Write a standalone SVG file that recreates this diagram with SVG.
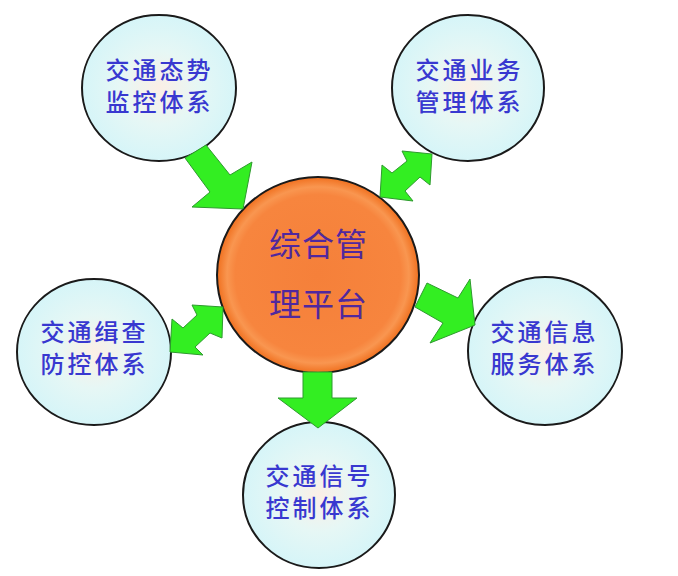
<svg xmlns="http://www.w3.org/2000/svg" width="678" height="576" viewBox="0 0 678 576">
<defs>
<radialGradient id="sat" cx="50%" cy="50%" r="50%">
<stop offset="0" stop-color="#FBEFE6"/>
<stop offset="0.5" stop-color="#E6F7F5"/>
<stop offset="1" stop-color="#D6F5F8"/>
</radialGradient>
<radialGradient id="hub" cx="50%" cy="50%" r="50%">
<stop offset="0" stop-color="#F5803A"/>
<stop offset="0.82" stop-color="#F7853E"/>
<stop offset="0.9" stop-color="#F99650"/>
<stop offset="1" stop-color="#F0701F"/>
</radialGradient>
<style>
.sat{fill:url(#sat);stroke:#1a1a1a;stroke-width:2}
.hub{fill:url(#hub);stroke:#1a1a1a;stroke-width:2}
.st{font-family:"Noto Sans CJK SC","Noto Sans CJK JP",sans-serif;font-size:24px;letter-spacing:3px;font-weight:500;fill:#3838D0;text-anchor:middle}
.ht{font-family:"Noto Sans CJK SC","Noto Sans CJK JP",sans-serif;font-size:32px;letter-spacing:1px;fill:#50289E;text-anchor:middle}
.ar{fill:#33EE22;stroke:#2E9A2E;stroke-width:1;stroke-linejoin:miter}
</style>
</defs>
<rect width="678" height="576" fill="#FFFFFF"/>
<g id="node-hub">
<ellipse class="hub" cx="318" cy="275" rx="101" ry="98"/>
<text class="ht" x="318.5" y="256">综合管</text>
<text class="ht" x="318.5" y="316">理平台</text>
</g>
<g id="node-situation">
<ellipse class="sat" cx="159" cy="88" rx="77" ry="73"/>
<text class="st" x="159.5" y="79">交通态势</text>
<text class="st" x="159.5" y="111">监控体系</text>
</g>
<g id="node-business">
<ellipse class="sat" cx="468" cy="88" rx="76" ry="73"/>
<text class="st" x="469.5" y="79">交通业务</text>
<text class="st" x="469.5" y="111">管理体系</text>
</g>
<g id="node-investigation">
<ellipse class="sat" cx="94" cy="352" rx="77" ry="73"/>
<text class="st" x="94.5" y="341">交通缉查</text>
<text class="st" x="94.5" y="373">防控体系</text>
</g>
<g id="node-information">
<ellipse class="sat" cx="545" cy="351" rx="77" ry="74"/>
<text class="st" x="544.5" y="341">交通信息</text>
<text class="st" x="544.5" y="373">服务体系</text>
</g>
<g id="node-signal">
<ellipse class="sat" cx="319" cy="495" rx="76" ry="73"/>
<text class="st" x="319.5" y="485">交通信号</text>
<text class="st" x="319.5" y="517">控制体系</text>
</g>
<g id="connectors">
<polygon class="ar" points="185,158 206,145 230,175 252,162 243,209 192,207 210,192"/>
<polygon class="ar" points="432,154 430,185 420,177 405,191 413,201 380,197 382,165 392,173 407,161 402,151"/>
<polygon class="ar" points="223,307 222,338 210,333 195,347 203,355 170,352 172,319 183,328 197,315 192,305"/>
<polygon class="ar" points="427,283 458,298 470,279 475,325 430,343 443,323 415,307"/>
<polygon class="ar" points="303,372 332,372 332,398 357,398 318,428 278,398 303,398"/>
</g>
</svg>
